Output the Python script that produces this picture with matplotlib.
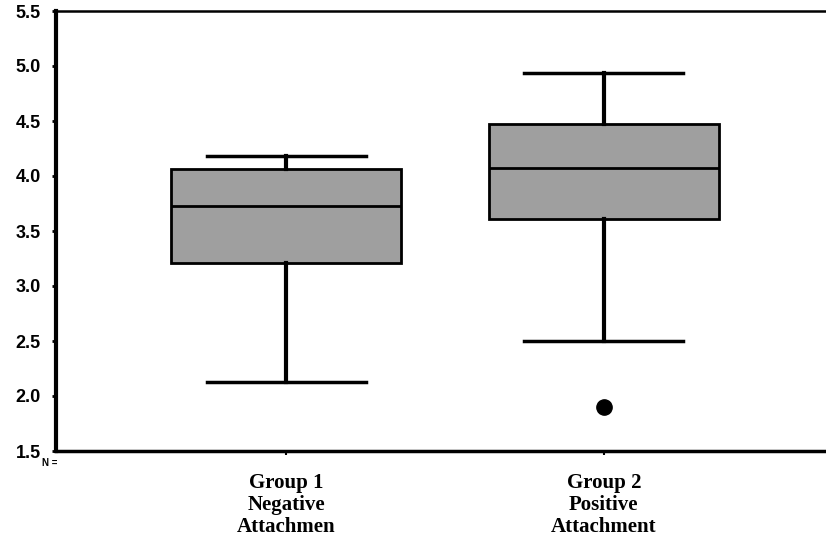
import matplotlib
matplotlib.use("Agg")
import matplotlib.pyplot as plt

# box statistics
groups = ["Group 1\nNegative\nAttachmen", "Group 2\nPositive\nAttachment"]
whisker_low = [2.13, 2.50]
q1 = [3.21, 3.61]
median = [3.73, 4.07]
q3 = [4.06, 4.47]
whisker_high = [4.18, 4.94]
outliers = [[], [1.90]]
yticks = [1.5, 2.0, 2.5, 3.0, 3.5, 4.0, 4.5, 5.0, 5.5]

stats = []
for i in range(len(groups)):
    stats.append({
        "whislo": whisker_low[i], "q1": q1[i], "med": median[i],
        "q3": q3[i], "whishi": whisker_high[i], "fliers": outliers[i],
    })

fig = plt.figure(figsize=(8.26, 5.45), dpi=100)
ax = fig.add_axes([56 / 826, 94 / 545, 770 / 826, 440 / 545])

ax.bxp(stats, positions=[1, 2], widths=0.725, patch_artist=True,
       boxprops=dict(facecolor="#9f9f9f", edgecolor="black", linewidth=2),
       medianprops=dict(color="black", linewidth=2),
       whiskerprops=dict(color="black", linewidth=3),
       capprops=dict(color="black", linewidth=2.5),
       capwidths=0.5,
       flierprops=dict(marker="o", markerfacecolor="black",
                       markeredgecolor="black", markersize=11))

ax.set_xlim(0.274, 2.70)
ax.set_ylim(1.5, 5.5)
ax.set_yticks(yticks)
ax.set_yticklabels([f"{v:.1f}" for v in yticks], fontfamily="Liberation Sans",
                   fontweight="bold", fontsize=13)
ax.tick_params(axis="y", length=3, width=2, pad=8)
ax.set_xticks([1, 2])
ax.set_xticklabels(groups, fontfamily="Liberation Serif", fontweight="bold",
                   fontsize=15, linespacing=1.12)
ax.tick_params(axis="x", length=3, width=1.5, pad=13)

ax.spines["right"].set_visible(False)
ax.spines["left"].set_linewidth(3)
ax.spines["bottom"].set_linewidth(2.5)
ax.spines["top"].set_linewidth(1.8)

fig.text(42 / 826, 1 - 463 / 545, "N =", fontsize=7, fontweight="bold",
         fontfamily="Liberation Sans", va="center", ha="left")

fig.savefig("out.png", dpi=100)
